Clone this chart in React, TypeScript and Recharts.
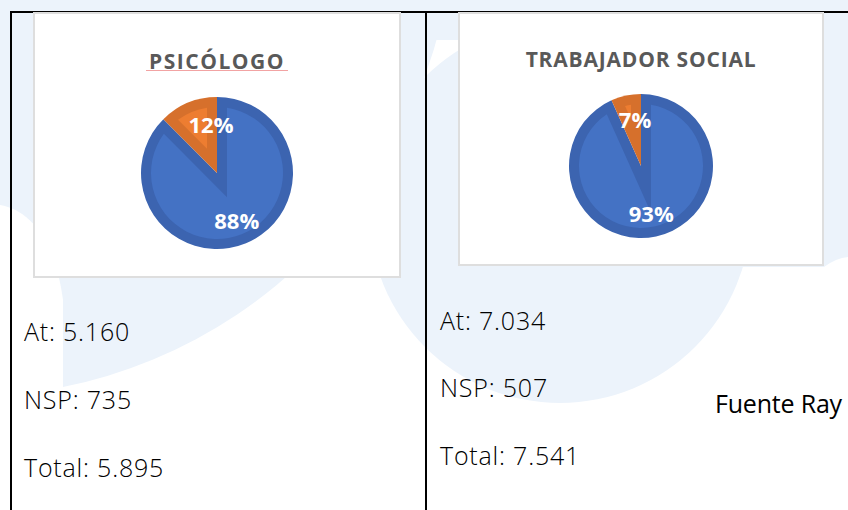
import { PieChart, Pie, Cell } from "recharts"

// Psicólogo
const psicologoNames = ["At", "NSP"]
const psicologoValues = [5160, 735]
const psicologoTotal = 5895

// Trabajador social
const trabajadorNames = ["At", "NSP"]
const trabajadorValues = [7034, 507]
const trabajadorTotal = 7541

const SLICE_COLORS = ["#4472c4", "#ed7d31"]
const RIM_COLORS: Record<string, string> = { "#4472c4": "#3c64b0", "#ed7d31": "#d6702c" }
const WATERMARK = "#ecf3fb"
const RIM = 10
const RAD = Math.PI / 180

const fmt = (n: number) => String(n).replace(/\B(?=(\d{3})+(?!\d))/g, ".")

const pt = (cx: number, cy: number, r: number, a: number): [number, number] => [
  cx + r * Math.cos(-a * RAD),
  cy + r * Math.sin(-a * RAD),
]

// Excel-like slice: darker rim, lighter inset fill
function RimSector(props: any) {
  const { cx, cy, outerRadius: R, startAngle, endAngle, fill } = props
  const span = Math.abs(startAngle - endAngle)
  const sweep = startAngle > endAngle ? 1 : 0
  const large = span > 180 ? 1 : 0
  const [x1, y1] = pt(cx, cy, R, startAngle)
  const [x2, y2] = pt(cx, cy, R, endAngle)
  const outer = `M${cx},${cy}L${x1},${y1}A${R},${R},0,${large},${sweep},${x2},${y2}Z`

  const half = (span / 2) * RAD
  const mid = (startAngle + endAngle) / 2
  const off = RIM / Math.sin(half)
  const [vx, vy] = pt(cx, cy, off, mid)
  const r = R - RIM
  let inner = ""
  const wx = vx - cx
  const wy = vy - cy
  if (wx * wx + wy * wy < r * r) {
    const hit = (a: number): [number, number] => {
      const ux = Math.cos(-a * RAD)
      const uy = Math.sin(-a * RAD)
      const b = wx * ux + wy * uy
      const c = wx * wx + wy * wy - r * r
      const t = -b + Math.sqrt(b * b - c)
      return [vx + t * ux, vy + t * uy]
    }
    const p1 = hit(startAngle)
    const p2 = hit(endAngle)
    const ang = (p: [number, number]) => Math.atan2(-(p[1] - cy), p[0] - cx) / RAD
    const s = sweep ? ang(p1) - ang(p2) : ang(p2) - ang(p1)
    const s2 = ((s % 360) + 360) % 360
    inner = `M${vx},${vy}L${p1[0]},${p1[1]}A${r},${r},0,${s2 > 180 ? 1 : 0},${sweep},${p2[0]},${p2[1]}Z`
  }
  return (
    <g>
      <path d={outer} fill={RIM_COLORS[fill] ?? fill} />
      {inner && <path d={inner} fill={fill} />}
    </g>
  )
}

const renderLabel = (props: any) => {
  const { cx, cy, midAngle, outerRadius, percent } = props
  let x: number
  let y: number
  if (percent < 0.2) {
    x = cx - 6
    y = cy - 0.635 * outerRadius
  } else {
    ;[x, y] = pt(cx, cy, 0.68 * outerRadius, midAngle)
  }
  return (
    <text x={x} y={y + 7.8} textAnchor="middle" fill="#ffffff" fontFamily="Open Sans" fontWeight={700} fontSize={22}>
      {`${Math.round(percent * 100)}%`}
    </text>
  )
}

interface BoxProps {
  left: number
  top: number
  width: number
  height: number
  title: string
  titleY: number
  names: string[]
  values: number[]
  cx: number
  cy: number
  radius: number
  underline?: [number, number]
  spacing: number
}

function ChartBox({ left, top, width, height, title, titleY, names, values, cx, cy, radius, underline, spacing }: BoxProps) {
  const data = names.map((name, i) => ({ name, value: values[i] }))
  return (
    <div
      style={{
        position: "absolute",
        left,
        top,
        width,
        height,
        background: "#ffffff",
        boxSizing: "border-box",
        border: "2px solid #dedede",
      }}
    >
      <div style={{ position: "absolute", left: -2, top: -2 }}>
        <PieChart width={width} height={height} margin={{ top: 0, right: 0, bottom: 0, left: 0 }}>
          <Pie
            data={data}
            dataKey="value"
            nameKey="name"
            cx={cx}
            cy={cy}
            outerRadius={radius}
            startAngle={90}
            endAngle={-270}
            stroke="none"
            shape={RimSector}
            label={renderLabel}
            labelLine={false}
            isAnimationActive={false}
          >
            {data.map((_, i) => (
              <Cell key={i} fill={SLICE_COLORS[i % SLICE_COLORS.length]} />
            ))}
          </Pie>
        </PieChart>
      </div>
      <svg width={width} height={height} style={{ position: "absolute", left: -2, top: -2, pointerEvents: "none" }}>
        <text
          x={cx}
          y={titleY}
          textAnchor="middle"
          fill="#595959"
          fontFamily="Open Sans"
          fontWeight={700}
          fontSize={21}
          letterSpacing={spacing}
        >
          {title}
        </text>
        {underline && <line x1={underline[0]} x2={underline[1]} y1={titleY + 1.5} y2={titleY + 1.5} stroke="#f2a3a3" strokeWidth={1} />}
      </svg>
    </div>
  )
}

const bodyText: React.CSSProperties = {
  position: "absolute",
  fontFamily: "Open Sans",
  fontWeight: 300,
  fontSize: 25,
  color: "#000000",
  letterSpacing: 0.8,
  whiteSpace: "nowrap",
  lineHeight: 1,
}

function TextLine({ x, baseline, text, weight = 300, spacing = 0.8 }: { x: number; baseline: number; text: string; weight?: number; spacing?: number }) {
  // lineHeight 1 at 25px: baseline sits about 0.82em below top for Open Sans
  return <div style={{ ...bodyText, left: x, top: baseline - 21, fontWeight: weight, letterSpacing: spacing }}>{text}</div>
}

export default function App() {
  return (
    <div style={{ position: "absolute", left: 0, top: 0, width: 848, height: 510, overflow: "hidden", background: "#ffffff" }}>
      <svg width={848} height={510} style={{ position: "absolute", left: 0, top: 0 }}>
        <rect x={0} y={0} width={848} height={40} fill={WATERMARK} />
        <circle cx={-35} cy={-93} r={490} fill={WATERMARK} />
        <path d="M0,205 C30,210 55,240 63,300 L63,420 L0,420 Z" fill="#ffffff" />
        <circle cx={560} cy={212} r={191} fill={WATERMARK} />
        <path d="M700,0 H848 V257 Q836,258 824,267 L700,267 Z" fill={WATERMARK} />
        <line x1={10} x2={848} y1={12} y2={12} stroke="#000" strokeWidth={2} />
        <line x1={11} x2={11} y1={11} y2={510} stroke="#000" strokeWidth={2} />
        <line x1={426} x2={426} y1={11} y2={510} stroke="#000" strokeWidth={2} />
      </svg>

      <ChartBox
        left={33}
        top={12}
        width={368}
        height={266}
        title="PSICÓLOGO"
        titleY={57}
        names={psicologoNames}
        values={psicologoValues}
        cx={184}
        cy={161}
        radius={76}
        underline={[113, 255]}
        spacing={1.5}
      />
      <ChartBox
        left={458}
        top={12}
        width={366}
        height={254}
        title="TRABAJADOR SOCIAL"
        titleY={55}
        names={trabajadorNames}
        values={trabajadorValues}
        cx={183}
        cy={154}
        radius={72}
        spacing={0.8}
      />

      <TextLine x={24} baseline={340} text={`${psicologoNames[0]}: ${fmt(psicologoValues[0])}`} />
      <TextLine x={24} baseline={408} text={`${psicologoNames[1]}: ${fmt(psicologoValues[1])}`} />
      <TextLine x={24} baseline={476} text={`Total: ${fmt(psicologoTotal)}`} />

      <TextLine x={440} baseline={329} text={`${trabajadorNames[0]}: ${fmt(trabajadorValues[0])}`} />
      <TextLine x={440} baseline={396} text={`${trabajadorNames[1]}: ${fmt(trabajadorValues[1])}`} />
      <TextLine x={440} baseline={464} text={`Total: ${fmt(trabajadorTotal)}`} />

      <TextLine x={715} baseline={412} text="Fuente Ray" weight={400} spacing={-0.2} />
    </div>
  )
}
